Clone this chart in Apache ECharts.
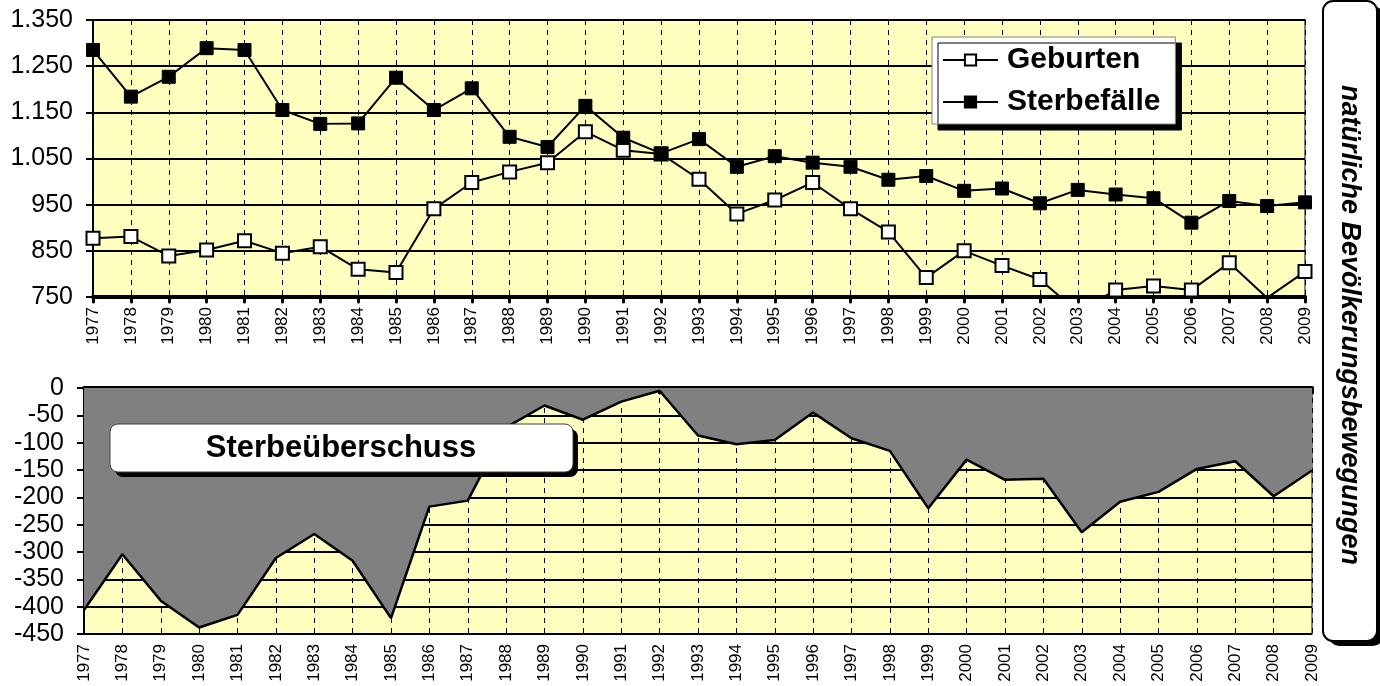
<!DOCTYPE html>
<html lang="de">
<head>
<meta charset="UTF-8">
<title>natürliche Bevölkerungsbewegungen</title>
<script src="https://cdn.jsdelivr.net/npm/echarts@6/dist/echarts.min.js"></script>
<style>
    html, body { margin: 0; padding: 0; background: #fff; }
    #chart { width: 1380px; height: 686px; }
</style>
</head>
<body>
<div id="chart"></div>
<script>
// Jahre
var years = ['1977', '1978', '1979', '1980', '1981', '1982', '1983', '1984', '1985', '1986',
    '1987', '1988', '1989', '1990', '1991', '1992', '1993', '1994', '1995', '1996',
    '1997', '1998', '1999', '2000', '2001', '2002', '2003', '2004', '2005', '2006',
    '2007', '2008', '2009'];

// Geburten / Sterbefälle (oben)
var geburten = [877, 881, 839, 852, 872, 845, 859, 810, 803, 941,
    998, 1021, 1041, 1108, 1068, 1060, 1005, 930, 960, 998,
    941, 891, 792, 850, 818, 788, 718, 765, 774, 765,
    824, 748, 805];
var sterbefaelle = [1285, 1184, 1227, 1289, 1285, 1155, 1125, 1126, 1225, 1155,
    1202, 1097, 1075, 1164, 1095, 1061, 1092, 1032, 1055, 1041,
    1032, 1004, 1012, 980, 985, 953, 982, 972, 964, 911,
    958, 947, 955];

// Sterbeüberschuss (unten)
var ueberschuss = [-406, -304, -389, -438, -415, -311, -267, -316, -421, -217,
    -206, -72, -32, -58, -25, -5, -87, -103, -95, -45,
    -92, -115, -220, -131, -168, -166, -264, -208, -190, -148,
    -134, -198, -151];

var FONT = 'Liberation Sans, Arial, sans-serif';
var YELLOW = '#FFFFC0';

function deNum(v) {
    return String(v).replace(/\B(?=(\d{3})+(?!\d))/g, '.');
}

var option = {
    animation: false,
    backgroundColor: '#fff',
    textStyle: { fontFamily: FONT, color: '#000' },
    grid: [
        { left: 93, right: 75, top: 20, bottom: 389, show: true, backgroundColor: YELLOW, borderColor: '#808080', borderWidth: 2 },
        { left: 84, right: 68, top: 388, bottom: 52, show: true, backgroundColor: YELLOW, borderColor: '#808080', borderWidth: 2 }
    ],
    legend: {
        data: ['Geburten', 'Sterbefälle'],
        orient: 'vertical',
        align: 'left',
        left: 932,
        top: 37,
        padding: [8, 15, 7, 10],
        itemGap: 12,
        itemWidth: 55,
        itemHeight: 14,
        backgroundColor: '#fff',
        borderColor: '#808080',
        borderWidth: 1,
        shadowColor: '#000',
        shadowOffsetX: 6,
        shadowOffsetY: 6,
        shadowBlur: 0,
        textStyle: { fontFamily: FONT, fontSize: 30, fontWeight: 'bold', color: '#000', padding: [0, 0, 0, 4] }
    },
    xAxis: [
        {
            type: 'category', gridIndex: 0, data: years, boundaryGap: false,
            axisLine: { lineStyle: { color: '#000', width: 4 } },
            axisTick: { interval: 0, length: 5, lineStyle: { color: '#000', width: 3, cap: 'round' } },
            axisLabel: { interval: 0, rotate: 90, margin: 10, fontSize: 17, color: '#000', fontFamily: FONT },
            splitLine: { show: true, interval: 0, lineStyle: { color: '#000', width: 1, type: [5, 5] } }
        },
        {
            type: 'category', gridIndex: 1, data: years, boundaryGap: false, position: 'bottom',
            axisLine: { show: false },
            axisTick: { show: false },
            axisLabel: { interval: 0, rotate: 90, margin: 10, fontSize: 17, color: '#000', fontFamily: FONT },
            splitLine: { show: true, interval: 0, lineStyle: { color: '#000', width: 1, type: [5, 5] } }
        },
        {
            type: 'category', gridIndex: 1, data: years, boundaryGap: false, position: 'top',
            axisLine: { onZero: false, lineStyle: { color: '#000', width: 4 } },
            axisTick: { interval: 0, inside: true, length: 5, lineStyle: { color: '#000', width: 3, cap: 'round' } },
            axisLabel: { show: false },
            splitLine: { show: false }
        }
    ],
    yAxis: [
        {
            type: 'value', gridIndex: 0, min: 750, max: 1350, interval: 100,
            axisLine: { show: true, lineStyle: { color: '#000', width: 2 } },
            axisTick: { show: true, length: 7, lineStyle: { color: '#000', width: 2 } },
            axisLabel: { margin: 20, fontSize: 25, color: '#000', fontFamily: FONT, formatter: deNum },
            splitLine: { lineStyle: { color: '#000', width: 2 } }
        },
        {
            type: 'value', gridIndex: 1, min: -450, max: 0, interval: 50,
            axisLine: { show: true, lineStyle: { color: '#000', width: 2 } },
            axisTick: { show: true, length: 7, lineStyle: { color: '#000', width: 2 } },
            axisLabel: { margin: 20, fontSize: 25, color: '#000', fontFamily: FONT },
            splitLine: { lineStyle: { color: '#000', width: 2 } }
        }
    ],
    series: [
        {
            name: 'Geburten', type: 'line', xAxisIndex: 0, yAxisIndex: 0,
            data: geburten,
            symbol: 'rect', symbolSize: 13,
            lineStyle: { color: '#000', width: 2 },
            itemStyle: { color: '#fff', borderColor: '#000', borderWidth: 2 },
            z: 3
        },
        {
            name: 'Sterbefälle', type: 'line', xAxisIndex: 0, yAxisIndex: 0,
            data: sterbefaelle,
            symbol: 'rect', symbolSize: 13,
            lineStyle: { color: '#000', width: 2 },
            itemStyle: { color: '#000', borderColor: '#000', borderWidth: 1 },
            z: 3
        },
        {
            name: 'Sterbeüberschuss', type: 'line', xAxisIndex: 1, yAxisIndex: 1,
            data: ueberschuss,
            symbol: 'none',
            lineStyle: { color: '#000', width: 2.5 },
            areaStyle: { color: '#808080', opacity: 1, origin: 'end' }
        }
    ],
    graphic: [
        // Kasten "Sterbeüberschuss"
        { type: 'rect', z: 10, shape: { x: 115, y: 429, width: 463, height: 48, r: 8 }, style: { fill: '#000' } },
        { type: 'rect', z: 11, shape: { x: 110, y: 424, width: 463, height: 48, r: 8 }, style: { fill: '#fff', stroke: '#404040', lineWidth: 1 } },
        { type: 'text', z: 12, x: 341, y: 448, style: { text: 'Sterbeüberschuss', font: 'bold 31px ' + FONT, fill: '#000', textAlign: 'center', textVerticalAlign: 'middle' } },
        // Kasten rechts
        { type: 'rect', z: 10, shape: { x: 1329, y: 6, width: 54, height: 640, r: 10 }, style: { fill: '#000' } },
        { type: 'rect', z: 11, shape: { x: 1323, y: 1, width: 54, height: 640, r: 10 }, style: { fill: '#fff', stroke: '#000', lineWidth: 2 } },
        { type: 'text', z: 12, x: 1349, y: 325, rotation: -Math.PI / 2, style: { text: 'natürliche Bevölkerungsbewegungen', font: 'italic bold 27px ' + FONT, fill: '#000', textAlign: 'center', textVerticalAlign: 'middle' } }
    ]
};

var myChart = echarts.init(document.getElementById('chart'));
myChart.setOption(option);
</script>
</body>
</html>
